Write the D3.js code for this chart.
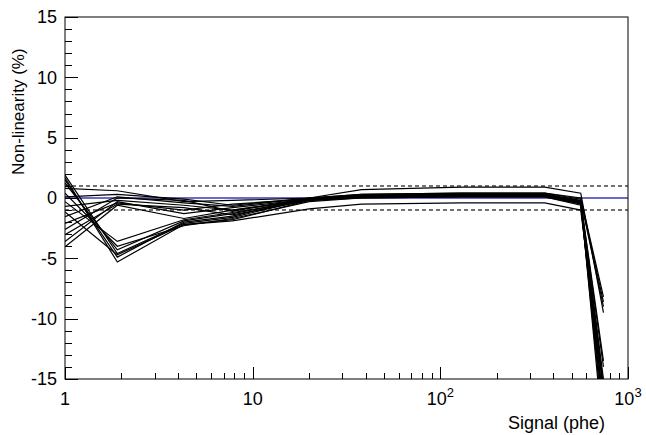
<!DOCTYPE html>
<html>
<head>
<meta charset="utf-8">
<script src="https://cdn.jsdelivr.net/npm/d3@7"></script>
<style>
  html, body { margin: 0; padding: 0; background: #fff; }
  svg { display: block; font-family: "Liberation Sans", Arial, Helvetica, sans-serif; }
</style>
</head>
<body>
<svg id="chart" width="646" height="435"></svg>
<script>
// Signal points (phe) at which each channel's non-linearity was measured
const signalPhe = [1, 1.9, 4.3, 7.8, 20, 38, 130, 360, 560, 740];

// Non-linearity (%) per channel, one value per signal point
const channels = [
  [ 1.9,  -4.6, -2.1, -1.6, -0.1,  0.2,  0.3,  0.3, -0.3, -16.0],
  [ 1.7,  -5.3, -2.2, -1.8, -0.2,  0.1,  0.2,  0.2, -0.4, -18.0],
  [ 1.5,  -4.9, -2.0, -1.5,  0.0,  0.2,  0.3,  0.3, -0.2,  -9.0],
  [ 1.25, -4.3, -1.9, -1.3, -0.1,  0.1,  0.2,  0.2, -0.3, -15.0],
  [ 0.8,   0.6, -0.3, -0.2,  0.0,  0.3,  0.4,  0.4,  0.0,  -8.2],
  [ 0.4,  -4.0, -2.3, -1.7, -0.3,  0.0,  0.1,  0.1, -0.5, -17.0],
  [ 0.1,   0.3, -0.1, -0.6,  0.0,  0.7,  0.9,  0.9,  0.4,  -9.5],
  [-0.3,  -3.6, -1.8, -1.2, -0.2,  0.2,  0.3,  0.3, -0.3, -14.0],
  [-0.7,  -0.2, -0.6, -1.0, -0.1,  0.2,  0.3,  0.3, -0.2, -20.0],
  [-1.15, -4.7, -2.2, -1.9, -0.9, -0.5, -0.4, -0.4, -1.0, -16.0],
  [-1.55,  0.1, -0.4, -0.7,  0.0,  0.3,  0.4,  0.4, -0.1,  -8.6],
  [-2.1,  -0.4, -1.0, -0.5, -0.1,  0.1,  0.2,  0.2, -0.4, -19.0],
  [-2.6,   0.0, -0.2, -1.1,  0.0,  0.2,  0.3,  0.3, -0.3, -13.5],
  [-3.05, -0.5, -0.8, -1.4, -0.2,  0.1,  0.2,  0.2, -0.5, -17.0],
  [-3.6,  -0.3, -1.3, -0.8, -0.1,  0.2,  0.3,  0.3, -0.3, -15.5],
  [-4.05, -0.6, -1.7, -1.0, -0.2,  0.0,  0.1,  0.1, -0.6, -18.0]
];

// Reference levels: ideal linearity and the ±1 % band
const idealLevel = [0];
const bandLevels = [-1, 1];

// Axis ticks
const yMajorTicks = [-15, -10, -5, 0, 5, 10, 15];
const yMinorTicks = d3.range(-15, 16, 1);
const xDecades = [1, 10, 100, 1000];
const xDecadeLabels = [["1", ""], ["10", ""], ["10", "2"], ["10", "3"]];

const W = 646, H = 435;
const margin = { left: 65, right: 18, top: 17, bottom: 56 };
const x0 = margin.left, x1 = W - margin.right;
const y0 = H - margin.bottom, y1 = margin.top;

const x = d3.scaleLog().domain([1, 1000]).range([x0, x1]);
const y = d3.scaleLinear().domain([-15, 15]).range([y0, y1]);

const svg = d3.select("#chart");

svg.append("defs").append("clipPath").attr("id", "frameClip")
  .append("rect").attr("x", x0).attr("y", y1).attr("width", x1 - x0).attr("height", y0 - y1);

const plot = svg.append("g").attr("clip-path", "url(#frameClip)");

// ±1 % band
plot.selectAll("line.band").data(bandLevels).join("line")
  .attr("class", "band")
  .attr("x1", x0).attr("x2", x1)
  .attr("y1", d => y(d)).attr("y2", d => y(d))
  .attr("stroke", "#444").attr("stroke-width", 1.4)
  .attr("stroke-dasharray", "4,3");

// ideal response
plot.selectAll("line.ideal").data(idealLevel).join("line")
  .attr("class", "ideal")
  .attr("x1", x0).attr("x2", x1)
  .attr("y1", d => y(d)).attr("y2", d => y(d))
  .attr("stroke", "#3838b4").attr("stroke-width", 1.3);

// channel curves
const line = d3.line()
  .x((d, i) => x(signalPhe[i]))
  .y(d => y(d));

plot.selectAll("path.channel").data(channels).join("path")
  .attr("class", "channel")
  .attr("d", line)
  .attr("fill", "none")
  .attr("stroke", "#000")
  .attr("stroke-width", 1.2)
  .attr("stroke-linejoin", "miter");

// frame
svg.append("rect")
  .attr("x", x0).attr("y", y1).attr("width", x1 - x0).attr("height", y0 - y1)
  .attr("fill", "none").attr("stroke", "#000").attr("stroke-width", 1);

// Y axis ticks (inward)
const axes = svg.append("g").attr("stroke", "#000").attr("stroke-width", 1);
axes.selectAll("line.ymin").data(yMinorTicks).join("line")
  .attr("x1", x0).attr("x2", d => x0 + (yMajorTicks.includes(d) ? 13 : 7))
  .attr("y1", d => Math.round(y(d)) + 0.5).attr("y2", d => Math.round(y(d)) + 0.5);

// X axis ticks (inward, log)
const xMinor = [];
for (let dec = 1; dec < 1000; dec *= 10) {
  for (let k = 2; k <= 9; k++) xMinor.push(dec * k);
}
axes.selectAll("line.xmin").data(xMinor).join("line")
  .attr("x1", d => Math.round(x(d)) + 0.5).attr("x2", d => Math.round(x(d)) + 0.5)
  .attr("y1", y0).attr("y2", y0 - 6);
axes.selectAll("line.xmaj").data(xDecades).join("line")
  .attr("x1", d => Math.round(x(d)) + 0.5).attr("x2", d => Math.round(x(d)) + 0.5)
  .attr("y1", y0).attr("y2", y0 - 12);

// Y tick labels
svg.selectAll("text.ylab").data(yMajorTicks).join("text")
  .attr("x", x0 - 8).attr("y", d => y(d))
  .attr("dy", "0.36em")
  .attr("text-anchor", "end")
  .attr("font-size", 18)
  .attr("fill", "#000")
  .text(d => d);

// X tick labels (powers of ten)
const xl = svg.selectAll("text.xlab").data(xDecades).join("text")
  .attr("x", d => x(d))
  .attr("y", 405)
  .attr("text-anchor", "middle")
  .attr("font-size", 18)
  .attr("fill", "#000");
xl.each(function (d, i) {
  const t = d3.select(this);
  const [base, sup] = xDecadeLabels[i];
  t.append("tspan").text(base);
  if (sup) {
    t.append("tspan").attr("dy", -8).attr("font-size", 13).text(sup);
  }
});

// axis titles
svg.append("text")
  .attr("x", 605).attr("y", 429)
  .attr("text-anchor", "end")
  .attr("font-size", 18)
  .attr("fill", "#000")
  .text("Signal (phe)");

svg.append("text")
  .attr("transform", "translate(24,175) rotate(-90)")
  .attr("text-anchor", "start")
  .attr("font-size", 17)
  .attr("fill", "#000")
  .text("Non-linearity (%)");
</script>
</body>
</html>
